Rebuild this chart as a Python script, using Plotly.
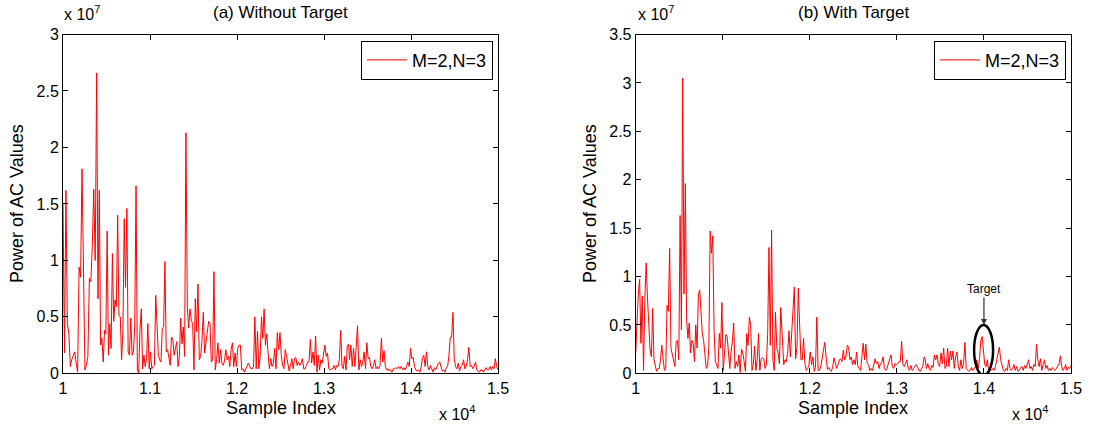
import numpy as np
import plotly.graph_objects as go

# ---------------- data (power in units of 1e7, sample index) ----------------
# (a) Without Target : segments (start_sample, end_sample, values)
a_seg1_range = (10000, 10387)
a_seg1 = [1.50, 0.18, 1.62, 0.44, 0.35, 0.06, 0.12, 0.15, 0.19, 0.09, 0.01, 0.94, 0.85, 1.81, 0.88,
          0.03, 0.07, 0.15, 0.84, 0.81, 1.12, 1.63, 1.00, 2.66]
a_seg2_range = (10402, 11413)
a_seg2 = [0.66, 1.62, 0.25, 0.31, 0.10, 0.38, 0.35, 1.26, 0.16, 0.44, 0.22, 1.06, 0.46, 0.65, 0.59,
          1.40, 0.51, 0.50, 0.12, 0.38, 1.37, 0.76, 1.46, 0.19, 0.16, 0.49, 0.16, 0.19, 0.41, 1.66,
          0.03, 0.00, 0.38, 0.57, 0.04, 0.16, 0.06, 0.13, 0.44, 0.04, 0.19, 0.04, 0.06, 0.07, 0.69,
          0.37, 0.16, 0.12, 0.10, 0.40, 0.41, 0.99, 0.19, 0.21, 0.12, 0.07, 0.32, 0.31, 0.16, 0.24,
          0.28, 0.06, 0.15, 0.49, 0.26, 0.41, 0.15, 2.13]
a_seg3_range = (11429, 11628)
a_seg3 = [0.59, 0.40, 0.57, 0.47, 0.44, 0.03, 0.66, 0.37, 0.79, 0.12, 0.15, 0.29, 0.54, 0.18]
a_seg4_range = (11644, 13283)
a_seg4 = [0.28, 0.41, 0.46, 0.44, 0.10, 0.12, 0.90, 0.03, 0.12, 0.27, 0.09, 0.21, 0.09, 0.07, 0.11,
          0.21, 0.12, 0.15, 0.06, 0.21, 0.27, 0.06, 0.18, 0.06, 0.22, 0.25, 0.25, 0.03, 0.04, 0.01,
          0.03, 0.06, 0.09, 0.07, 0.04, 0.04, 0.06, 0.50, 0.04, 0.37, 0.04, 0.15, 0.50, 0.31, 0.57,
          0.25, 0.35, 0.18, 0.04, 0.13, 0.06, 0.09, 0.22, 0.04, 0.36, 0.21, 0.36, 0.16, 0.07, 0.04,
          0.21, 0.15, 0.06, 0.02, 0.07, 0.13, 0.04, 0.13, 0.14, 0.07, 0.10, 0.07, 0.09, 0.13, 0.04,
          0.04, 0.07, 0.10, 0.10, 0.30, 0.09, 0.19, 0.07, 0.33, 0.01, 0.16, 0.03, 0.12, 0.09, 0.16,
          0.25, 0.15, 0.18, 0.04, 0.03, 0.04, 0.04, 0.07, 0.03, 0.07, 0.06, 0.12, 0.38, 0.06, 0.04,
          0.15, 0.03, 0.24, 0.26]
a_seg5_range = (13294, 15000)
a_seg5 = [0.12, 0.25, 0.06, 0.22, 0.06, 0.26, 0.42, 0.03, 0.12, 0.06, 0.10, 0.19, 0.04, 0.27, 0.13,
          0.14, 0.06, 0.04, 0.07, 0.12, 0.04, 0.06, 0.04, 0.07, 0.31, 0.10, 0.20, 0.06, 0.03, 0.04,
          0.02, 0.03, 0.01, 0.04, 0.04, 0.05, 0.04, 0.06, 0.04, 0.06, 0.03, 0.05, 0.03, 0.06, 0.10,
          0.06, 0.22, 0.13, 0.14, 0.06, 0.03, 0.02, 0.03, 0.01, 0.05, 0.14, 0.16, 0.06, 0.19, 0.06,
          0.03, 0.07, 0.03, 0.01, 0.05, 0.03, 0.06, 0.09, 0.10, 0.05, 0.02, 0.03, 0.01, 0.05, 0.06,
          0.16, 0.32, 0.32, 0.54, 0.13, 0.06, 0.04, 0.09, 0.02, 0.06, 0.07, 0.12, 0.04, 0.06, 0.12,
          0.23, 0.06, 0.07, 0.04, 0.06, 0.10, 0.03, 0.02, 0.01, 0.03, 0.03, 0.01, 0.03, 0.05, 0.03,
          0.03, 0.06, 0.03, 0.06, 0.04, 0.13, 0.06, 0.03]

# (b) With Target
b_seg1_range = (10000, 10540)
b_seg1 = [0.21, 0.62, 0.82, 0.97, 0.31, 0.80, 0.03, 0.76, 1.14, 0.79, 0.52, 0.24, 0.17, 0.67, 0.14,
          0.07, 0.02, 0.05, 0.05, 0.14, 0.29, 0.15, 0.03, 0.05, 0.70, 0.64, 1.29, 0.26, 0.19, 0.15,
          0.07, 0.33, 0.34, 0.14, 1.63, 0.45, 3.05]
b_seg2_range = (10555, 11666)
b_seg2 = [0.82, 1.96, 0.55, 0.36, 0.52, 0.21, 0.34, 0.31, 0.12, 0.50, 0.26, 0.81, 0.86, 0.58, 0.41,
          0.34, 0.17, 0.05, 0.07, 0.27, 1.47, 1.24, 1.42, 0.45, 0.12, 0.09, 0.05, 0.41, 0.26, 0.73,
          0.03, 0.21, 0.40, 0.38, 0.21, 0.05, 0.22, 0.33, 0.52, 0.05, 0.12, 0.07, 0.19, 0.01, 0.25,
          0.21, 0.12, 0.02, 0.41, 0.29, 0.58, 0.50, 0.03, 0.09, 0.28, 0.03, 0.14, 0.41, 0.03, 0.15,
          0.16, 0.15, 0.05, 0.09, 0.41, 1.30, 0.29, 1.48, 0.14, 0.03, 0.63, 0.26, 0.21, 0.10, 0.68]
b_seg3_range = (11685, 13313)
b_seg3 = [0.33, 0.09, 0.14, 0.12, 0.22, 0.44, 0.17, 0.41, 0.58, 0.89, 0.15, 0.27, 0.88, 0.38, 0.14,
          0.14, 0.36, 0.10, 0.03, 0.05, 0.08, 0.22, 0.09, 0.17, 0.02, 0.06, 0.58, 0.03, 0.03, 0.07,
          0.14, 0.22, 0.32, 0.17, 0.04, 0.06, 0.03, 0.02, 0.07, 0.16, 0.10, 0.05, 0.09, 0.14, 0.15,
          0.12, 0.24, 0.14, 0.17, 0.29, 0.27, 0.14, 0.17, 0.09, 0.14, 0.09, 0.22, 0.07, 0.05, 0.03,
          0.17, 0.31, 0.14, 0.30, 0.10, 0.09, 0.03, 0.05, 0.03, 0.09, 0.15, 0.10, 0.12, 0.05, 0.10,
          0.11, 0.17, 0.05, 0.03, 0.05, 0.12, 0.15, 0.19, 0.07, 0.05, 0.10, 0.09, 0.10, 0.12, 0.12,
          0.33, 0.09, 0.07, 0.10, 0.14, 0.05, 0.03, 0.08, 0.03, 0.05, 0.07, 0.09, 0.07, 0.03, 0.02,
          0.05, 0.07, 0.17]
b_seg4_range = (13324, 15000)
b_seg4 = [0.15, 0.05, 0.10, 0.05, 0.03, 0.08, 0.06, 0.19, 0.14, 0.19, 0.09, 0.07, 0.21, 0.10, 0.26,
          0.05, 0.07, 0.26, 0.07, 0.23, 0.14, 0.23, 0.05, 0.17, 0.22, 0.07, 0.03, 0.14, 0.05, 0.10,
          0.32, 0.05, 0.03, 0.02, 0.03, 0.06, 0.03, 0.05, 0.07, 0.14, 0.05, 0.14, 0.34, 0.38, 0.24,
          0.09, 0.07, 0.14, 0.02, 0.04, 0.03, 0.05, 0.03, 0.07, 0.14, 0.22, 0.27, 0.14, 0.07, 0.03,
          0.02, 0.05, 0.03, 0.14, 0.05, 0.03, 0.05, 0.09, 0.03, 0.07, 0.02, 0.03, 0.06, 0.07, 0.03,
          0.08, 0.05, 0.09, 0.14, 0.05, 0.07, 0.03, 0.09, 0.07, 0.30, 0.14, 0.07, 0.15, 0.03, 0.09,
          0.14, 0.05, 0.08, 0.03, 0.05, 0.03, 0.06, 0.04, 0.03, 0.05, 0.07, 0.10, 0.18, 0.07, 0.03,
          0.05, 0.09, 0.03, 0.06, 0.05, 0.08]

x_tick_vals = [10000, 11000, 12000, 13000, 14000, 15000]
x_tick_text = ["1", "1.1", "1.2", "1.3", "1.4", "1.5"]
ya_tick_vals = [0, 0.5e7, 1e7, 1.5e7, 2e7, 2.5e7, 3e7]
ya_tick_text = ["0", "0.5", "1", "1.5", "2", "2.5", "3"]
yb_tick_vals = [0, 0.5e7, 1e7, 1.5e7, 2e7, 2.5e7, 3e7, 3.5e7]
yb_tick_text = ["0", "0.5", "1", "1.5", "2", "2.5", "3", "3.5"]

target_x_range = (13887, 14105)
target_y_range = (-0.02e7, 0.5e7)
target_point = (14000, 0.5e7)

series_name = "M=2,N=3"
SCALE = 1e7


def build(segments):
    xs, ys = [], []
    for (s, e), vals in segments:
        xs.append(np.linspace(s, e, len(vals)))
        ys.append(np.array(vals) * SCALE)
    return np.concatenate(xs), np.concatenate(ys)


xa, ya = build([(a_seg1_range, a_seg1), (a_seg2_range, a_seg2), (a_seg3_range, a_seg3),
                (a_seg4_range, a_seg4), (a_seg5_range, a_seg5)])
xb, yb = build([(b_seg1_range, b_seg1), (b_seg2_range, b_seg2), (b_seg3_range, b_seg3),
                (b_seg4_range, b_seg4)])

# the page body margin is removed by a post script, so the figure fills the window
W, H = 1094, 430
FONT = "Liberation Sans, Arial, Helvetica, sans-serif"


def px(x):
    return x / W


def py(y):
    return 1 - y / H


fig = go.Figure()
fig.add_trace(go.Scatter(x=xa, y=ya, mode="lines", name=series_name, showlegend=True,
                         line=dict(color="#ff0000", width=1), xaxis="x", yaxis="y",
                         legend="legend"))
fig.add_trace(go.Scatter(x=xb, y=yb, mode="lines", name=series_name, showlegend=True,
                         line=dict(color="#ff0000", width=1), xaxis="x2", yaxis="y2",
                         legend="legend2"))

axis_common = dict(showline=True, linecolor="black", linewidth=1, mirror="allticks",
                   ticks="inside", ticklen=5, tickcolor="black", showgrid=False, zeroline=False,
                   automargin=False,
                   tickfont=dict(family=FONT, size=16, color="black"))
ydom = [py(373.3), py(34.5)]
legend_common = dict(xanchor="right", yanchor="top", bordercolor="black", borderwidth=1,
                     bgcolor="white", visible=True, itemwidth=40,
                     font=dict(family=FONT, size=18, color="black"))
fig.update_layout(
    width=W, height=H, margin=dict(l=0, r=0, t=0, b=0, pad=0, autoexpand=False),
    paper_bgcolor="white", plot_bgcolor="white", showlegend=True,
    font=dict(family=FONT, color="black"),
    xaxis=dict(domain=[px(63), px(498)], range=[10000, 15000], tickvals=x_tick_vals,
               ticktext=x_tick_text, anchor="y", **axis_common),
    yaxis=dict(domain=ydom, range=[0, 3e7], tickvals=ya_tick_vals, ticktext=ya_tick_text,
               anchor="x", **axis_common),
    xaxis2=dict(domain=[px(635.7), px(1071)], range=[10000, 15000], tickvals=x_tick_vals,
                ticktext=x_tick_text, anchor="y2", **axis_common),
    yaxis2=dict(domain=ydom, range=[0, 3.5e7], tickvals=yb_tick_vals, ticktext=yb_tick_text,
                anchor="x2", **axis_common),
    legend=dict(x=px(493), y=py(40.7), **legend_common),
    legend2=dict(x=px(1066), y=py(40.7), **legend_common),
)

ann = []


def label(text, x, y, size, xanchor="center", angle=0):
    ann.append(dict(text=text, x=px(x), y=py(y), xref="paper", yref="paper",
                    xanchor=xanchor, yanchor="middle", showarrow=False, textangle=angle,
                    font=dict(family=FONT, size=size, color="black")))


# titles
label("(a) Without Target", 280.5, 12, 17)
label("(b) With Target", 853.4, 12, 17)
# exponent labels
for xl in (62, 636):
    label("x 10<sup>7</sup>", xl, 13, 16, xanchor="left")
for xl in (437, 1010):
    label("x 10<sup>4</sup>", xl, 413, 16, xanchor="left")
# axis labels
for xc in (280.5, 853.4):
    label("Sample Index", xc, 408, 18)
for xc in (17, 590):
    label("Power of AC Values", xc, 204, 18, angle=-90)

# target annotation
ann.append(dict(text="Target", x=target_point[0], y=target_point[1], xref="x2", yref="y2",
                showarrow=True, arrowhead=2, arrowsize=1, arrowwidth=1.2, arrowcolor="#333333",
                ax=0, ay=-36, font=dict(family=FONT, size=12, color="black")))
fig.update_layout(annotations=ann)

fig.add_shape(type="circle", xref="x2", yref="y2",
              x0=target_x_range[0], x1=target_x_range[1],
              y0=target_y_range[0], y1=target_y_range[1],
              line=dict(color="black", width=2.5))

fig.write_html("out.html", config={"displayModeBar": False},
               post_script="document.body.style.margin='0';document.body.style.overflow='hidden';")
